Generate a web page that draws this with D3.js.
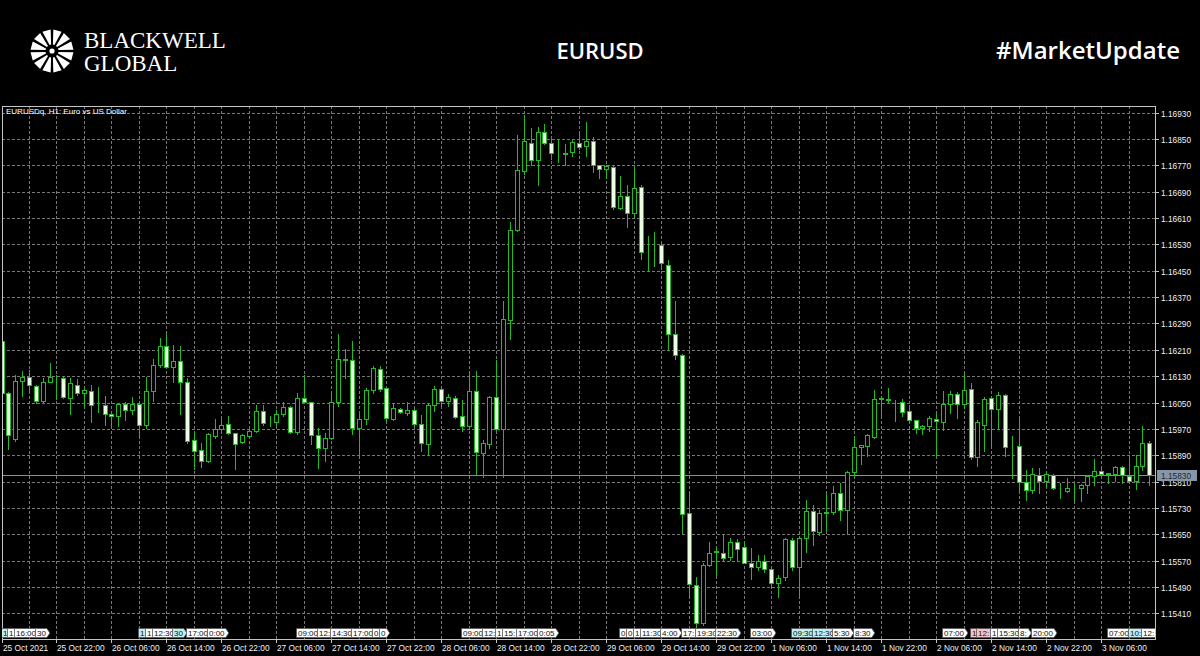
<!DOCTYPE html>
<html><head><meta charset="utf-8">
<script src="https://cdn.jsdelivr.net/npm/d3@7"></script>
<style>
html,body{margin:0;padding:0;background:#000;}
svg{display:block;}
</style></head>
<body>
<script>
// ---------- DATA ----------
const sessionDays = [["25 Oct",14,23],["26 Oct",0,23],["27 Oct",0,23],["28 Oct",0,23],["29 Oct",0,23],["1 Nov",0,23],["2 Nov",0,23],["3 Nov",0,13]];
const openP = [1.16238,1.16078,1.15938,1.16115,1.16128,1.16100,1.16055,1.16113,1.16128,1.16125,
1.16063,1.16103,1.16078,1.16086,1.16043,1.16041,1.16015,1.16008,1.16045,1.16028,
1.16046,1.15983,1.16085,1.16165,1.16221,1.16158,1.16175,1.16111,1.15935,1.15905,
1.15871,1.15948,1.15971,1.15986,1.15956,1.15931,1.15948,1.15965,1.16025,1.15990,
1.15991,1.16015,1.16035,1.15961,1.16063,1.16051,1.15950,1.15913,1.15943,1.16051,
1.16181,1.16178,1.15973,1.16001,1.16088,1.16151,1.16093,1.16000,1.16031,1.16017,
1.16026,1.15986,1.15925,1.16042,1.16092,1.16054,1.16064,1.16008,1.15980,1.16085,
1.15897,1.15925,1.16067,1.15970,1.16301,1.16575,1.16754,1.16839,1.16785,1.16871,
1.16839,1.16806,1.16809,1.16810,1.16839,1.16829,1.16844,1.16772,1.16759,1.16765,
1.16640,1.16678,1.16626,1.16704,1.16531,1.16531,1.16528,1.16468,1.16257,1.16193,
1.15714,1.15496,1.15381,1.15557,1.15597,1.15594,1.15580,1.15625,1.15611,1.15564,
1.15552,1.15568,1.15543,1.15502,1.15520,1.15634,1.15551,1.15639,1.15720,1.15656,
1.15716,1.15717,1.15775,1.15723,1.15838,1.15915,1.15919,1.15946,1.16061,1.16060,
1.16055,1.16051,1.16024,1.15996,1.15972,1.15978,1.16000,1.15990,1.16044,1.16077,
1.16046,1.16092,1.15885,1.15983,1.16064,1.16031,1.16074,1.15916,1.15917,1.15808,
1.15784,1.15831,1.15811,1.15831,1.15788,1.15781,1.15793,1.15791,1.15801,1.15828,
1.15841,1.15835,1.15834,1.15854,1.15826,1.15811,1.15856,1.15927];
const highP = [1.16240,1.16083,1.16133,1.16145,1.16150,1.16103,1.16125,1.16170,1.16133,1.16130,
1.16123,1.16120,1.16093,1.16103,1.16098,1.16071,1.16021,1.16048,1.16053,1.16066,
1.16051,1.16128,1.16183,1.16245,1.16258,1.16225,1.16223,1.16125,1.15961,1.15928,
1.15958,1.16000,1.16000,1.16010,1.15958,1.15953,1.15971,1.16043,1.16043,1.16008,
1.16028,1.16053,1.16038,1.16078,1.16133,1.16053,1.15973,1.15958,1.16075,1.16258,
1.16213,1.16238,1.16015,1.16093,1.16161,1.16161,1.16095,1.16044,1.16033,1.16051,
1.16029,1.16013,1.16046,1.16100,1.16095,1.16077,1.16069,1.16059,1.16145,1.16145,
1.15937,1.16071,1.16179,1.16359,1.16597,1.16863,1.16922,1.16883,1.16886,1.16897,
1.16851,1.16846,1.16836,1.16846,1.16869,1.16902,1.16856,1.16772,1.16770,1.16772,
1.16739,1.16709,1.16765,1.16711,1.16556,1.16567,1.16536,1.16483,1.16359,1.16196,
1.15775,1.15519,1.15562,1.15628,1.15607,1.15651,1.15638,1.15635,1.15628,1.15607,
1.15587,1.15587,1.15550,1.15527,1.15639,1.15639,1.15642,1.15755,1.15740,1.15725,
1.15773,1.15798,1.15806,1.15841,1.15948,1.15922,1.15953,1.16089,1.16071,1.16095,
1.16057,1.16061,1.16041,1.15998,1.15983,1.16010,1.16019,1.16084,1.16084,1.16081,
1.16140,1.16110,1.15996,1.16067,1.16067,1.16081,1.16077,1.15948,1.16003,1.15846,
1.15851,1.15851,1.15841,1.15834,1.15806,1.15821,1.15806,1.15803,1.15831,1.15879,
1.15848,1.15836,1.15858,1.15858,1.15885,1.15892,1.15980,1.15932];
const lowP = [1.16075,1.15908,1.15933,1.16070,1.16088,1.16048,1.16051,1.16111,1.16061,1.16065,
1.16016,1.16073,1.16038,1.15990,1.16021,1.15983,1.15973,1.15978,1.15998,1.16015,
1.15941,1.15973,1.16055,1.16158,1.16155,1.16113,1.16015,1.15928,1.15848,1.15855,
1.15868,1.15943,1.15968,1.15953,1.15848,1.15928,1.15946,1.15961,1.15983,1.15978,
1.15983,1.16008,1.15958,1.15955,1.16051,1.15923,1.15851,1.15873,1.15938,1.16038,
1.16125,1.15955,1.15883,1.15985,1.16078,1.16085,1.15998,1.15998,1.16019,1.16013,
1.15983,1.15902,1.15892,1.16024,1.16034,1.16039,1.16003,1.15963,1.15973,1.15831,
1.15824,1.15912,1.15968,1.15824,1.16244,1.16572,1.16744,1.16770,1.16711,1.16836,
1.16790,1.16780,1.16772,1.16800,1.16820,1.16800,1.16749,1.16731,1.16731,1.16638,
1.16638,1.16582,1.16617,1.16487,1.16450,1.16465,1.16455,1.16211,1.16181,1.15653,
1.15455,1.15369,1.15374,1.15554,1.15526,1.15572,1.15572,1.15572,1.15562,1.15513,
1.15541,1.15536,1.15487,1.15461,1.15512,1.15542,1.15466,1.15595,1.15618,1.15649,
1.15664,1.15713,1.15694,1.15654,1.15826,1.15862,1.15887,1.15943,1.16013,1.16049,
1.15993,1.16008,1.15988,1.15958,1.15953,1.15963,1.15887,1.15968,1.16019,1.16003,
1.16034,1.15877,1.15858,1.15902,1.15912,1.15970,1.15887,1.15821,1.15781,1.15753,
1.15775,1.15775,1.15796,1.15788,1.15760,1.15778,1.15755,1.15750,1.15775,1.15801,
1.15826,1.15806,1.15811,1.15806,1.15806,1.15786,1.15846,1.15801];
const closeP = [1.16078,1.15950,1.16115,1.16128,1.16103,1.16055,1.16111,1.16128,1.16126,1.16068,
1.16108,1.16078,1.16088,1.16041,1.16041,1.16015,1.16009,1.16045,1.16028,1.16046,
1.15983,1.16085,1.16165,1.16221,1.16158,1.16175,1.16111,1.15933,1.15903,1.15871,
1.15955,1.15971,1.15983,1.15958,1.15925,1.15950,1.15965,1.16025,1.15988,1.15991,
1.16015,1.16035,1.15961,1.16063,1.16053,1.15950,1.15913,1.15943,1.16051,1.16181,
1.16179,1.15973,1.16001,1.16088,1.16155,1.16091,1.16002,1.16032,1.16021,1.16026,
1.15986,1.15927,1.16042,1.16092,1.16056,1.16067,1.16006,1.15978,1.16085,1.15899,
1.15927,1.16067,1.15970,1.16303,1.16575,1.16756,1.16843,1.16785,1.16871,1.16839,
1.16808,1.16805,1.16805,1.16841,1.16825,1.16843,1.16772,1.16759,1.16768,1.16643,
1.16678,1.16626,1.16701,1.16506,1.16530,1.16532,1.16473,1.16257,1.16193,1.15712,
1.15499,1.15381,1.15557,1.15592,1.15598,1.15577,1.15625,1.15605,1.15564,1.15552,
1.15569,1.15543,1.15502,1.15517,1.15636,1.15551,1.15639,1.15720,1.15659,1.15715,
1.15718,1.15775,1.15723,1.15838,1.15915,1.15921,1.15950,1.16061,1.16063,1.16058,
1.16054,1.16021,1.15996,1.15973,1.15980,1.16003,1.15993,1.16044,1.16077,1.16046,
1.16087,1.15885,1.15990,1.16061,1.16031,1.16074,1.15915,1.15914,1.15808,1.15784,
1.15834,1.15811,1.15834,1.15791,1.15787,1.15791,1.15794,1.15801,1.15828,1.15841,
1.15834,1.15834,1.15854,1.15831,1.15811,1.15858,1.15927,1.15831];
const priceTicks = [1.16930,1.16850,1.16770,1.16690,1.16610,1.16530,1.16450,1.16370,1.16290,1.16210,
1.16130,1.16050,1.15970,1.15890,1.15810,1.15730,1.15650,1.15570,1.15490,1.15410];
const timeLabels = ["25 Oct 2021","25 Oct 22:00","26 Oct 06:00","26 Oct 14:00","26 Oct 22:00","27 Oct 06:00",
"27 Oct 14:00","27 Oct 22:00","28 Oct 06:00","28 Oct 14:00","28 Oct 22:00","29 Oct 06:00","29 Oct 14:00",
"29 Oct 22:00","1 Nov 06:00","1 Nov 14:00","1 Nov 22:00","2 Nov 06:00","2 Nov 14:00","2 Nov 22:00","3 Nov 06:00"];
const currentPrice = 1.15830;
// calendar event tags: [day, hour, visible text, kind]
const eventTags = [["25 Oct",14,"1","c"],["25 Oct",15,"1","w"],["25 Oct",16,"16:00","w"],["25 Oct",19,"30","w"],
["26 Oct",10,"1","c"],["26 Oct",11,"1","w"],["26 Oct",12,"12:30","w"],["26 Oct",15,"30","c"],["26 Oct",17,"17:00","w"],["26 Oct",20,"0:00","w"],
["27 Oct",9,"09:00","w"],["27 Oct",12,"12:","w"],["27 Oct",14,"14:30","w"],["27 Oct",17,"17:00","w"],["27 Oct",20,"0","w"],["27 Oct",21,"0","w"],
["28 Oct",9,"09:00","w"],["28 Oct",12,"12:","w"],["28 Oct",14,"1","w"],["28 Oct",15,"15:","w"],["28 Oct",17,"17:00","w"],["28 Oct",20,"0:05","w"],
["29 Oct",8,"0","w"],["29 Oct",9,"0","w"],["29 Oct",10,"1","w"],["29 Oct",11,"11:30","w"],["29 Oct",14,"4:00","w"],["29 Oct",17,"17:","w"],["29 Oct",19,"19:30","w"],["29 Oct",22,"22:30","w"],
["1 Nov",3,"03:00","w"],["1 Nov",9,"09:30","c"],["1 Nov",12,"12:30","c"],["1 Nov",15,"5:30","w"],["1 Nov",18,"8:30","w"],
["2 Nov",7,"07:00","w"],["2 Nov",11,"1","p"],["2 Nov",12,"12:","p"],["2 Nov",14,"1","w"],["2 Nov",15,"15:30","w"],["2 Nov",18,"8:","w"],["2 Nov",20,"20:00","w"],
["3 Nov",7,"07:00","w"],["3 Nov",10,"10:","c"],["3 Nov",12,"12:","w"]];

// ---------- BUILD ----------
const pad = n => (n<10?"0":"")+n;
const bars = [];
sessionDays.forEach(([d,h0,h1]) => { for(let h=h0; h<=h1; h++) bars.push(d+" "+pad(h)+":00"); });
const candles = bars.map((t,i)=>({t, i, o:openP[i], h:highP[i], l:lowP[i], c:closeP[i]}));
const barIndex = {}; bars.forEach((t,i)=>barIndex[t]=i);

const W=1200, H=656;
const L=2, R=1155, T=106, B=639;
const svg = d3.select("body").append("svg").attr("width",W).attr("height",H)
  .style("font-family","'Liberation Sans', Arial, sans-serif");
svg.append("rect").attr("width",W).attr("height",H).attr("fill","#000");

const x = d3.scaleLinear().domain([0, candles.length-1]).range([1.5, 1.5+6.873*(candles.length-1)]);
const y = d3.scaleLinear().domain([1.15410, 1.16930]).range([613.3, 112.7]);

// header
const logo = svg.append("g").attr("transform","translate(52,51)");
d3.range(12).forEach(k=>{
  const a = k*30*Math.PI/180 + Math.PI/12;
  const r0=6.5, r1=21.5, w0=0.12, w1=0.2;
  const p = [[r0*Math.cos(a-w0), r0*Math.sin(a-w0)],[r1*Math.cos(a-w1), r1*Math.sin(a-w1)],
             [r1*Math.cos(a+w1), r1*Math.sin(a+w1)],[r0*Math.cos(a+w0), r0*Math.sin(a+w0)]];
  logo.append("path").attr("d","M"+p.map(q=>q.join(",")).join("L")+"Z").attr("fill","#fff");
});
logo.append("circle").attr("r",2.6).attr("fill","#fff");
svg.append("text").attr("x",84).attr("y",48).text("BLACKWELL")
  .attr("fill","#fff").style("font-family","'Liberation Serif', serif").style("font-size","23px");
svg.append("text").attr("x",84).attr("y",71).text("GLOBAL")
  .attr("fill","#fff").style("font-family","'Liberation Serif', serif").style("font-size","23px");
svg.append("text").attr("x",600).attr("y",59).attr("text-anchor","middle").text("EURUSD")
  .attr("fill","#fff").style("font-family","'Open Sans', sans-serif").style("font-weight","600").style("font-size","22px");
svg.append("text").attr("x",1180).attr("y",59).attr("text-anchor","end").text("#MarketUpdate")
  .attr("fill","#fff").style("font-family","'Open Sans', sans-serif").style("font-weight","600").style("font-size","24px");

// chart
const chart = svg.append("g");
svg.append("clipPath").attr("id","plot").append("rect").attr("x",L).attr("y",T).attr("width",R-L).attr("height",B-T);
const grid = chart.append("g").attr("stroke","#777").attr("stroke-dasharray","3,2").attr("shape-rendering","crispEdges");
priceTicks.forEach(p=>{ const yy=Math.round(y(p))+0.5; grid.append("line").attr("x1",L).attr("x2",R).attr("y1",yy).attr("y2",yy); });
candles.filter(d=>d.i>0 && d.i%4===0).forEach(d=>{ const xx=Math.round(x(d.i))+0.5; grid.append("line").attr("x1",xx).attr("x2",xx).attr("y1",T).attr("y2",B); });

chart.append("text").attr("x",6).attr("y",114).text("EURUSDq, H1:  Euro vs US Dollar").attr("fill","#fff").style("font-size","8px");

// current price line
const cy = Math.round(y(currentPrice))+0.5;
chart.append("line").attr("x1",L).attr("x2",R).attr("y1",cy).attr("y2",cy).attr("stroke","#8c9096").attr("shape-rendering","crispEdges");

// candles
const cg = chart.append("g").attr("clip-path","url(#plot)").attr("shape-rendering","crispEdges");
const green = "#22bb22";
candles.forEach(d=>{
  const cx = Math.round(x(d.i))+0.5;
  const bull = d.c >= d.o;
  cg.append("line").attr("x1",cx).attr("x2",cx).attr("y1",Math.round(y(d.h))).attr("y2",Math.round(y(d.l))+1).attr("stroke",green);
  const yt = Math.round(y(Math.max(d.o,d.c))), yb = Math.round(y(Math.min(d.o,d.c)));
  cg.append("rect").attr("x",cx-2).attr("y",yt+0.5).attr("width",4).attr("height",Math.max(0,yb-yt))
    .attr("fill", bull ? "#000" : "#eaffe2").attr("stroke",green);
});

// frame
const fr = chart.append("g").attr("stroke","#c4c4c4").attr("shape-rendering","crispEdges");
fr.append("line").attr("x1",L).attr("x2",R).attr("y1",T+0.5).attr("y2",T+0.5);
fr.append("line").attr("x1",L+0.5).attr("x2",L+0.5).attr("y1",T).attr("y2",B);
fr.append("line").attr("x1",R+0.5).attr("x2",R+0.5).attr("y1",T).attr("y2",B+1);
fr.append("line").attr("x1",L).attr("x2",R+1).attr("y1",B+0.5).attr("y2",B+0.5);

// price axis
const pa = chart.append("g");
priceTicks.forEach(p=>{
  const yy = Math.round(y(p))+0.5;
  pa.append("line").attr("x1",R).attr("x2",R+4).attr("y1",yy).attr("y2",yy).attr("stroke","#c4c4c4").attr("shape-rendering","crispEdges");
  pa.append("text").attr("x",1161).attr("y",yy+3).text(p.toFixed(5)).attr("fill","#f2f2f2").style("font-size","8.3px");
});
pa.append("rect").attr("x",1157).attr("y",cy-5.5).attr("width",40).attr("height",11).attr("fill","#8796a6");
pa.append("text").attr("x",1161).attr("y",cy+3).text(currentPrice.toFixed(5)).attr("fill","#1c2838").style("font-size","8.3px");

// time axis
const ta = chart.append("g");
timeLabels.forEach((lab,k)=>{
  const i = k===0 ? 0 : barIndex[lab];
  const xx = Math.round(x(i))+0.5;
  ta.append("line").attr("x1",xx).attr("x2",xx).attr("y1",B).attr("y2",B+4).attr("stroke","#c4c4c4").attr("shape-rendering","crispEdges");
  ta.append("text").attr("x",xx+0.5).attr("y",651).text(lab).attr("fill","#f2f2f2").style("font-size","8.3px");
});

// event tags
const tg = chart.append("g").attr("clip-path","url(#plot)");
const tagFill = {w:"#ffffff", c:"#bfeef0", p:"#f6c3c8"};
eventTags.forEach(([d,h,txt,kind])=>{
  const i = barIndex[d+" "+pad(h)+":00"];
  const x0 = Math.round(x(i))-0.5;
  const tw = txt.length ? txt.length*4.2 + (txt.includes(":")?-1.5:0) : 0;
  const w = tw + 3;
  const y0 = 628.5, y1 = 637.5;
  tg.append("path").attr("d",`M${x0},${y0}H${x0+w}L${x0+w+3},${(y0+y1)/2}L${x0+w},${y1}H${x0}Z`)
    .attr("fill",tagFill[kind]).attr("stroke","#555").attr("stroke-width",0.8);
  tg.append("text").attr("x",x0+1.5).attr("y",636).text(txt).attr("fill","#111").style("font-size","8px");
});
</script>
</body></html>
